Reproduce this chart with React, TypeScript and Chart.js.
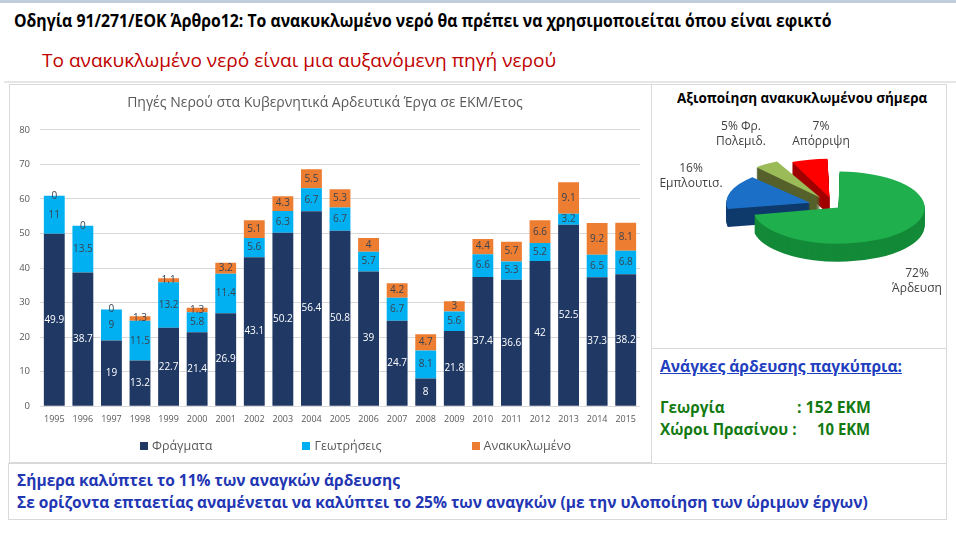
import React, { useEffect, useLayoutEffect, useRef } from 'react';
import { Chart, registerables } from 'chart.js';
Chart.register(...registerables);

// ---------- data ----------
const YEARS = ['1995','1996','1997','1998','1999','2000','2001','2002','2003','2004','2005','2006','2007','2008','2009','2010','2011','2012','2013','2014','2015'];
const DAMS = [49.9, 38.7, 19, 13.2, 22.7, 21.4, 26.9, 43.1, 50.2, 56.4, 50.8, 39, 24.7, 8, 21.8, 37.4, 36.6, 42, 52.5, 37.3, 38.2];
const BOREHOLES = [11, 13.5, 9, 11.5, 13.2, 5.8, 11.4, 5.6, 6.3, 6.7, 6.7, 5.7, 6.7, 8.1, 5.6, 6.6, 5.3, 5.2, 3.2, 6.5, 6.8];
const RECYCLED = [0, 0, 0, 1.3, 1.1, 1.3, 3.2, 5.1, 4.3, 5.5, 5.3, 4, 4.2, 4.7, 3, 4.4, 5.7, 6.6, 9.1, 9.2, 8.1];
const SERIES_NAMES = ['Φράγματα', 'Γεωτρήσεις', 'Ανακυκλωμένο'];
const SERIES_COLORS = ['#203864', '#00B0F0', '#ED7D31'];
const Y_MIN = 0;
const Y_MAX = 80;
const Y_STEP = 10;
const BAR_TITLE = 'Πηγές Νερού στα Κυβερνητικά Αρδευτικά Έργα σε ΕΚΜ/Ετος';

const PIE_NAMES = ['Άρδευση', 'Εμπλουτισ.', 'Φρ. Πολεμιδ.', 'Απόρριψη'];
const PIE_VALUES = [72, 16, 5, 7];
const PIE_TOP_COLORS = ['#1FAF4C', '#1B6FC6', '#9BBB59', '#FF0000'];
const PIE_SIDE_COLORS = ['#138A38', '#0E3A6C', '#56612B', '#A00000'];
const PIE_OFFSETS = [24, 100, 96, 84];

const FONT = '"Open Sans", "Noto Sans", sans-serif';
const SQUASH = 0.42;
const DEPTH = 18;

const barLabels = {
  id: 'barLabels',
  afterDatasetsDraw(chart: any) {
    const ctx = chart.ctx;
    ctx.save();
    ctx.font = '10px ' + FONT;
    ctx.textAlign = 'center';
    ctx.textBaseline = 'middle';
    chart.data.datasets.forEach((ds: any, i: number) => {
      const meta = chart.getDatasetMeta(i);
      meta.data.forEach((bar: any, j: number) => {
        const v = ds.data[j];
        const p = bar.getProps(['x', 'y', 'base'], true);
        ctx.fillStyle = i === 0 ? '#FFFFFF' : '#3A4350';
        ctx.fillText(String(v), p.x, (p.y + p.base) / 2);
      });
    });
    ctx.restore();
  },
};

const pie3d = {
  id: 'pie3d',
  beforeDatasetsDraw(chart: any) {
    const ctx = chart.ctx;
    const meta = chart.getDatasetMeta(0);
    const cx = meta.data[0].x;
    const cy = meta.data[0].y;
    for (let k = DEPTH; k >= 1; k--) {
      meta.data.forEach((arc: any, i: number) => {
        const fake = Object.create(arc);
        fake.options = { ...arc.options, backgroundColor: PIE_SIDE_COLORS[i], borderColor: PIE_SIDE_COLORS[i] };
        ctx.save();
        ctx.translate(cx, cy + k);
        ctx.scale(1, SQUASH);
        ctx.translate(-cx, -cy);
        arc.draw.call(fake, ctx);
        ctx.restore();
      });
    }
    ctx.save();
    ctx.translate(cx, cy);
    ctx.scale(1, SQUASH);
    ctx.translate(-cx, -cy);
  },
  afterDatasetsDraw(chart: any) {
    chart.ctx.restore();
  },
};

function FitText(props: { x: number; cy: number; w: number; size: number; style?: any; children: any }) {
  const ref = useRef<HTMLDivElement>(null);
  const h = Math.round(props.size * 1.3);
  useLayoutEffect(() => {
    const el = ref.current;
    if (!el) return;
    const nat = el.offsetWidth;
    if (nat > 0) el.style.transform = `scaleX(${props.w / nat})`;
  }, []);
  return (
    <div
      ref={ref}
      style={{
        position: 'absolute',
        left: props.x,
        top: props.cy - h / 2,
        height: h,
        lineHeight: h + 'px',
        fontSize: props.size,
        whiteSpace: 'nowrap',
        transformOrigin: '0 50%',
        fontFamily: FONT,
        ...(props.style || {}),
      }}
    >
      {props.children}
    </div>
  );
}

function BarChart() {
  const ref = useRef<HTMLCanvasElement>(null);
  useEffect(() => {
    const chart = new Chart(ref.current as HTMLCanvasElement, {
      type: 'bar',
      data: {
        labels: YEARS,
        datasets: [DAMS, BOREHOLES, RECYCLED].map((d, i) => ({
          label: SERIES_NAMES[i],
          data: d,
          backgroundColor: SERIES_COLORS[i],
          borderWidth: 0,
          categoryPercentage: 1,
          barPercentage: 0.73,
        })),
      },
      options: {
        animation: false,
        responsive: false,
        maintainAspectRatio: false,
        events: [],
        layout: { padding: { left: 0, right: 12, top: 10, bottom: 30 } },
        plugins: {
          legend: { display: false },
          tooltip: { enabled: false },
          title: {
            display: true,
            text: BAR_TITLE,
            color: '#595959',
            font: { size: 14, family: FONT, weight: 'normal' },
            padding: { top: 0, bottom: 18 },
          },
        },
        scales: {
          x: {
            stacked: true,
            grid: { display: false, drawTicks: false },
            border: { display: false },
            ticks: { color: '#595959', font: { size: 9, family: FONT }, maxRotation: 0, autoSkip: false, padding: 8 },
          },
          y: {
            stacked: true,
            min: Y_MIN,
            max: Y_MAX,
            grid: { color: '#D9D9D9', drawTicks: false },
            border: { display: false },
            ticks: { stepSize: Y_STEP, color: '#595959', font: { size: 9.5, family: FONT }, padding: 10 },
            afterFit: (s: any) => { s.width = 30; },
          },
        },
      },
      plugins: [barLabels],
    } as any);
    return () => chart.destroy();
  }, []);
  return <canvas ref={ref} width={642} height={378} style={{ position: 'absolute', left: 10, top: 85, width: 642, height: 378 }} />;
}

function PieChart() {
  const ref = useRef<HTMLCanvasElement>(null);
  useEffect(() => {
    const chart = new Chart(ref.current as HTMLCanvasElement, {
      type: 'pie',
      data: {
        labels: PIE_NAMES,
        datasets: [{
          data: PIE_VALUES,
          backgroundColor: PIE_TOP_COLORS,
          borderWidth: 0,
          offset: PIE_OFFSETS,
          hoverOffset: 0,
          radius: 80,
        }],
      },
      options: {
        animation: false,
        responsive: false,
        maintainAspectRatio: false,
        events: [],
        layout: { padding: 0 },
        plugins: { legend: { display: false }, tooltip: { enabled: false } },
      },
      plugins: [pie3d],
    } as any);
    return () => chart.destroy();
  }, []);
  return <canvas ref={ref} width={228} height={240} style={{ position: 'absolute', left: 720, top: 86, width: 228, height: 240 }} />;
}

const boxBorder = '1px solid #D9D9D9';

export default function App() {
  useEffect(() => {
    document.body.style.margin = '0';
  }, []);
  const pieLabel = (lines: string[], cx: number, cy: number) => (
    <div style={{ position: 'absolute', left: cx - 60, top: cy - 16, width: 120, textAlign: 'center', fontSize: 12, lineHeight: '15px', color: '#404040', fontFamily: FONT }}>
      {lines.map((l, i) => <div key={i}>{l}</div>)}
    </div>
  );
  const blue = '#2236B4';
  const green = '#137A12';
  return (
    <div style={{ position: 'absolute', left: 0, top: 0, width: 956, height: 537, background: '#FFFFFF', overflow: 'hidden', fontFamily: FONT }}>
      <div style={{ position: 'absolute', left: 0, top: 0, width: 956, height: 3, background: '#C3CCDA' }} />
      <FitText x={14} cy={20} w={818} size={18} style={{ fontWeight: 'bold', color: '#000000' }}>
        Οδηγία 91/271/ΕΟΚ Άρθρο12: Το ανακυκλωμένο νερό θα πρέπει να χρησιμοποιείται όπου είναι εφικτό
      </FitText>
      <FitText x={42} cy={60} w={514} size={19} style={{ color: '#C00000' }}>
        Το ανακυκλωμένο νερό είναι μια αυξανόμενη πηγή νερού
      </FitText>
      <div style={{ position: 'absolute', left: 4, top: 81, width: 952, height: 2, background: '#E6E6E6' }} />

      {/* panels */}
      <div style={{ position: 'absolute', left: 9, top: 84, width: 643, height: 379, border: boxBorder, boxSizing: 'border-box' }} />
      <div style={{ position: 'absolute', left: 652, top: 84, width: 295, height: 265, border: boxBorder, borderLeft: 'none', boxSizing: 'border-box' }} />
      <div style={{ position: 'absolute', left: 651, top: 348, width: 296, height: 116, border: boxBorder, boxSizing: 'border-box' }} />
      <div style={{ position: 'absolute', left: 8, top: 463, width: 939, height: 57, border: boxBorder, boxSizing: 'border-box' }} />

      <BarChart />

      {/* legend */}
      <div style={{ position: 'absolute', left: 140, top: 438, display: 'flex', gap: 90, fontSize: 12.5, color: '#595959', lineHeight: '16px', fontFamily: FONT }}>
        {SERIES_NAMES.map((n, i) => (
          <div key={n} style={{ display: 'flex', alignItems: 'center' }}>
            <span style={{ display: 'inline-block', width: 8, height: 8, background: SERIES_COLORS[i], marginRight: 4 }} />
            <span>{n}</span>
          </div>
        ))}
      </div>

      {/* pie */}
      <FitText x={677} cy={98} w={250} size={14} style={{ fontWeight: 'bold', color: '#000000' }}>
        Αξιοποίηση  ανακυκλωμένου σήμερα
      </FitText>
      <PieChart />
      {pieLabel([PIE_VALUES[2] + '% Φρ.', 'Πολεμιδ.'], 741, 134)}
      {pieLabel([PIE_VALUES[3] + '%', 'Απόρριψη'], 821, 134)}
      {pieLabel([PIE_VALUES[1] + '%', 'Εμπλουτισ.'], 691, 176)}
      {pieLabel([PIE_VALUES[0] + '%', 'Άρδευση'], 917, 281)}

      {/* needs box */}
      <FitText x={660} cy={366} w={242} size={16} style={{ fontWeight: 'bold', color: '#1F3FC0', textDecoration: 'underline' }}>
        Ανάγκες άρδευσης παγκύπρια:
      </FitText>
      <FitText x={660} cy={407} w={65} size={16} style={{ fontWeight: 'bold', color: green }}>Γεωργία</FitText>
      <FitText x={797} cy={407} w={74} size={16} style={{ fontWeight: 'bold', color: green }}>: 152 ΕΚΜ</FitText>
      <FitText x={660} cy={429} w={137} size={16} style={{ fontWeight: 'bold', color: green }}>Χώροι Πρασίνου :</FitText>
      <FitText x={817} cy={429} w={53} size={16} style={{ fontWeight: 'bold', color: green }}>10 ΕΚΜ</FitText>

      {/* bottom text */}
      <FitText x={17} cy={480} w={383} size={16} style={{ fontWeight: 'bold', color: blue }}>
        Σήμερα καλύπτει το 11% των αναγκών άρδευσης
      </FitText>
      <FitText x={17} cy={502} w={851} size={16} style={{ fontWeight: 'bold', color: blue }}>
        Σε ορίζοντα επταετίας αναμένεται να καλύπτει το 25% των αναγκών (με την υλοποίηση των ώριμων έργων)
      </FitText>
    </div>
  );
}
